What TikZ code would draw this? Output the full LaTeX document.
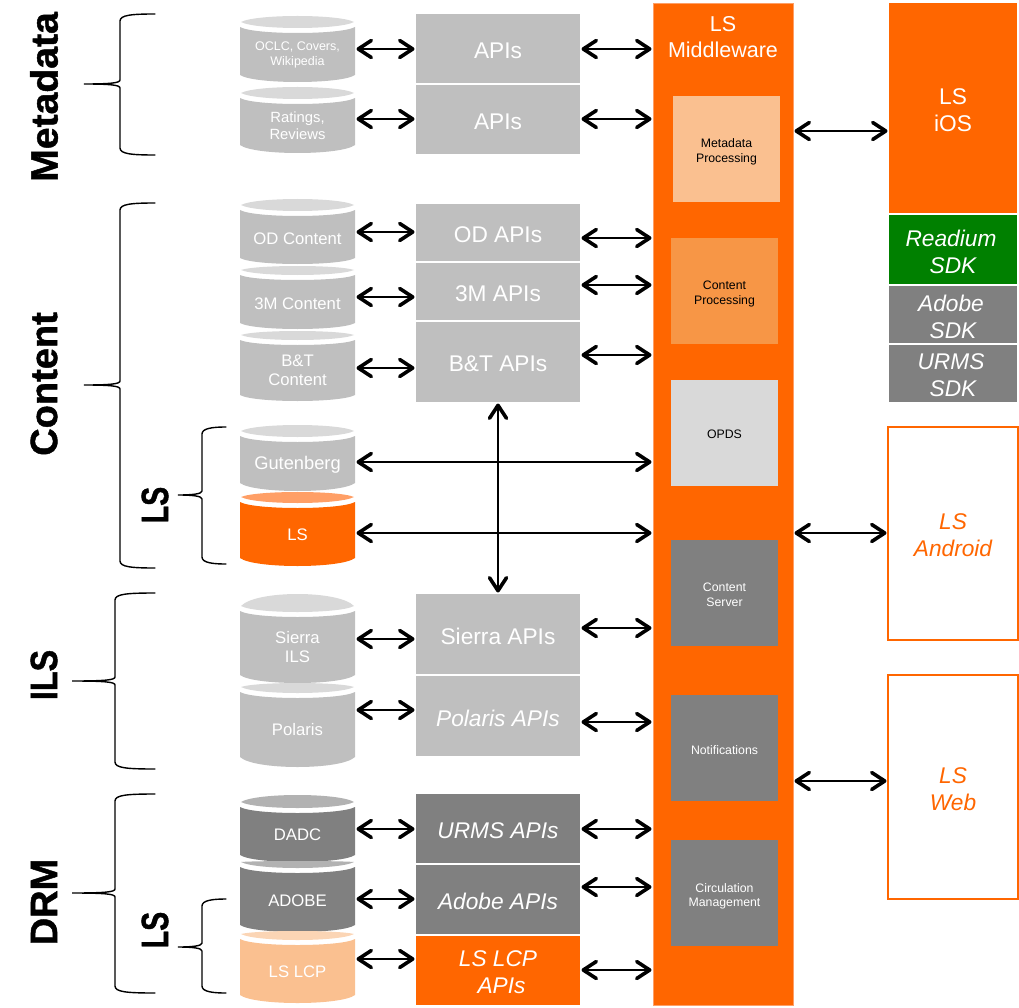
\documentclass[tikz,border=0pt]{standalone}
\usepackage{fontspec}
\usepackage{graphicx}
\setmainfont{Liberation Sans}
\newfontfamily\sidefont[UprightFont=* Bold,FakeBold=1.2]{Liberation Sans}
\usetikzlibrary{arrows.meta}
\definecolor{lsorange}{HTML}{FF6600}
\definecolor{lsorangelid}{HTML}{FF9F66}
\definecolor{lcp}{HTML}{FAC090}
\definecolor{lcplid}{HTML}{FBD5B5}
\definecolor{lgrey}{HTML}{BFBFBF}
\definecolor{lgreylid}{HTML}{D9D9D9}
\definecolor{dgrey}{HTML}{808080}
\definecolor{dgreylid}{HTML}{B2B2B2}
\definecolor{contentp}{HTML}{F79646}
\definecolor{lsgreen}{HTML}{008000}
\newcommand{\fs}[2]{\fontsize{#1}{#2}\selectfont}
\tikzset{
  biarrow/.style={line width=1.6pt,{Straight Barb[length=13pt,width=17pt,line width=3.6pt,round]}-{Straight Barb[length=13pt,width=17pt,line width=3.6pt,round]},shorten >=1.5pt,shorten <=1.5pt},
  bracepath/.style={line width=1.4pt,black,line cap=round},
  dblabel/.style={text=white,minimum width=115pt,inner sep=0pt,outer sep=0pt,align=center,font=\fs{16.7}{19}},
  bxs/.style={anchor=north west,inner sep=0pt,outer sep=0pt,align=center},
  apibox/.style={bxs,text=white,font=\fs{22.7}{27}},
  inner/.style={bxs,font=\fs{12.3}{14.6}},
  sidelabel/.style={rotate=90,font=\fs{38}{40}\sidefont,inner sep=0pt}
}
\newcommand{\cyl}[7]{%
  \pgfmathsetmacro{\lidy}{#2-5}%
  \pgfmathsetmacro{\lidc}{\lidy-(\lidy-#1)/.75}%
  \pgfmathsetmacro{\lidd}{\lidy+(#3-#2)/.75}%
  \pgfmathsetmacro{\bodc}{#2+(#3-#2)/.75}%
  \pgfmathsetmacro{\botc}{#4+(#5-#4)/.75}%
  \fill[#7] (241,\lidy) .. controls (256,\lidc) and (339,\lidc) .. (354,\lidy)
     .. controls (339,\lidd) and (256,\lidd) .. cycle;
  \fill[#6] (240,#2) .. controls (254,\bodc) and (341,\bodc) .. (355,#2)
     -- (355,#4) .. controls (341,\botc) and (254,\botc) .. (240,#4) -- cycle;
}
\newcommand{\tdy}{-2}
\newcommand{\bx}[7]{%
  \node[#6,minimum width={#4-#2},minimum height={#5-#3}] (#1) at (#2,#3) {};
  \node[#6,anchor=center,fill=none,draw=none,yshift=\tdy pt] (#1-text) at (#1.center) {#7};
}
\newcommand{\arr}[3]{\draw[biarrow] (#1.east |- 0,#3) -- (#2.west |- 0,#3);}
\newcommand{\bracecurve}[6]{%
  \pgfmathsetmacro{\ma}{#5-4}\pgfmathsetmacro{\mb}{#5+4}%
  \pgfmathsetmacro{\ta}{#4+7}\pgfmathsetmacro{\tb}{#6-7}%
  \draw[bracepath] (#3,#4) .. controls (#2+12,#4) and (#2,#4+1) .. (#2,\ta) -- (#2,\ma)
    .. controls (#2,#5-1) and (#2-10,#5) .. (#1,#5)
    .. controls (#2-10,#5) and (#2,#5+1) .. (#2,\mb) -- (#2,\tb)
    .. controls (#2,#6-1) and (#2+12,#6) .. (#3,#6);%
}
\begin{document}
\begin{tikzpicture}[x=1pt,y=-1pt]
\useasboundingbox (0,0) rectangle (1019,1008);
% braces
\bracecurve{84}{120}{155}{14}{84}{155}
\bracecurve{84}{120}{155}{203}{385}{568}
\bracecurve{72}{115}{155}{593}{681}{769}
\bracecurve{72}{115}{155}{794}{893}{993}
\bracecurve{178}{202}{226}{427}{495}{564}
\bracecurve{178}{202}{226}{899}{947}{993}
% side labels
\node[sidelabel] (lmeta) at (44,97) {\scalebox{1.03}[1]{Metadata}};
\node[sidelabel] (lcontent) at (44,384) {Content};
\node[sidelabel] (lils) at (44,675) {\scalebox{.85}[1]{ILS}};
\node[sidelabel] (ldrm) at (44,902) {DRM};
\node[sidelabel] (lls) at (155,505) {\scalebox{.75}[1]{LS}};
\node[sidelabel] (llsb) at (155,930) {\scalebox{.75}[1]{LS}};
% cylinders
\cyl{16}{27}{33}{75}{82}{lgrey}{lgreylid}
\cyl{87}{98}{104}{145}{153}{lgrey}{lgreylid}
\cyl{199}{210}{216}{258}{264}{lgrey}{lgreylid}
\cyl{266}{275}{280}{323}{329}{lgrey}{lgreylid}
\cyl{331}{340}{345}{395}{401}{lgrey}{lgreylid}
\cyl{425}{436}{442}{483}{491}{lgrey}{lgreylid}
\cyl{492}{502}{508}{558}{566}{lsorange}{lsorangelid}
\cyl{594}{611}{617}{675}{683}{lgrey}{lgreylid}
\cyl{683}{692}{698}{757}{767}{lgrey}{lgreylid}
\cyl{795}{807}{813}{855}{862}{dgrey}{dgreylid}
\cyl{861}{867}{873}{925}{932}{dgrey}{dgreylid}
\cyl{931}{939}{945}{995}{1003}{lcp}{lcplid}
% cylinder labels
\node[dblabel,font=\fs{12.5}{15}] (dbocl) at (297.5,55) {OCLC, Covers,\\Wikipedia};
\node[dblabel,font=\fs{14.8}{17}] (dbrat) at (297.5,126) {Ratings,\\Reviews};
\node[dblabel] (dbod) at (297.5,239) {OD Content};
\node[dblabel] (db3m) at (297.5,304) {3M Content};
\node[dblabel] (dbbt) at (297.5,370.5) {B\&T\\Content};
\node[dblabel,font=\fs{18.3}{20}] (dbgut) at (297.5,464.5) {Gutenberg};
\node[dblabel] (dbls) at (297.5,535) {LS};
\node[dblabel] (dbsie) at (297.5,647.5) {Sierra\\ILS};
\node[dblabel] (dbpol) at (297.5,730) {Polaris};
\node[dblabel] (dbdadc) at (297.5,835) {DADC};
\node[dblabel] (dbado) at (297.5,901) {ADOBE};
\node[dblabel] (dblcp) at (297.5,972) {LS LCP};
% API boxes
\bx{ap1}{416}{14}{580}{83}{apibox,fill=lgrey}{APIs}
\bx{ap2}{416}{85}{580}{154}{apibox,fill=lgrey}{APIs}
\bx{apod}{416}{204}{580}{261}{apibox,fill=lgrey}{OD APIs}
\bx{ap3m}{416}{263}{580}{320}{apibox,fill=lgrey}{3M APIs}
\bx{apbt}{416}{322}{580}{402}{apibox,fill=lgrey}{B\&T APIs}
\bx{apsie}{416}{594}{580}{674}{apibox,fill=lgrey}{Sierra APIs}
\bx{appol}{416}{676}{580}{756}{apibox,fill=lgrey}{\itshape Polaris APIs}
\bx{apurms}{416}{794}{580}{863}{apibox,fill=dgrey}{\itshape URMS APIs}
\bx{apado}{416}{865}{580}{934}{apibox,fill=dgrey}{\itshape Adobe APIs}
\bx{aplcp}{416}{936}{580}{1005}{apibox,fill=lsorange}{\itshape LS LCP\\\itshape\hspace*{7pt}APIs}
% middleware
\bx{mw}{653}{3}{793}{1005}{bxs,fill=lsorange,draw=lsorangelid,line width=.6pt}{}
\node[text=white,font=\fs{21.5}{26},align=center,inner sep=0pt] (mwlabel) at (723,37.5) {LS\\Middleware};
\renewcommand{\tdy}{-3}
\bx{pmeta}{673}{96}{780}{202}{inner,fill=lcp}{Metadata\\Processing}
\bx{pcont}{671}{238}{778}{344}{inner,fill=contentp}{Content\\Processing}
\renewcommand{\tdy}{-1}
\bx{popds}{671}{380}{778}{486}{inner,fill=lgreylid}{OPDS}
\renewcommand{\tdy}{-2}
\bx{pserv}{671}{540}{778}{646}{inner,fill=dgrey,text=white}{Content\\Server}
\bx{pnoti}{671}{695}{778}{801}{inner,fill=dgrey,text=white}{Notifications}
\renewcommand{\tdy}{-3.5}
\bx{pcirc}{671}{840}{778}{946}{inner,fill=dgrey,text=white}{Circulation\\Management}
\renewcommand{\tdy}{-2}
% right column
\bx{ios}{889}{3}{1017}{213}{apibox,fill=lsorange}{LS\\iOS}
\bx{read}{889}{215}{1017}{284}{apibox,fill=lsgreen}{\itshape Readium\hspace*{4pt}\\\itshape SDK}
\bx{adsdk}{889}{286}{1017}{343}{apibox,fill=dgrey}{\itshape Adobe\hspace*{4pt}\\\itshape SDK}
\bx{usdk}{889}{345}{1017}{402}{apibox,fill=dgrey}{\itshape URMS\hspace*{4pt}\\\itshape SDK}
\bx{andr}{888}{427}{1018}{640}{apibox,draw=lsorange,line width=1.2pt,fill=white,text=lsorange}{\itshape LS\\\itshape Android}
\bx{web}{888}{675}{1018}{899}{apibox,draw=lsorange,line width=1.2pt,fill=white,text=lsorange}{\itshape LS\\\itshape Web}
% connectors
\arr{dbocl}{ap1}{49}\arr{dbrat}{ap2}{119}
\arr{ap1}{mw}{49}\arr{ap2}{mw}{119}
\arr{dbod}{apod}{232}\arr{db3m}{ap3m}{297}\arr{dbbt}{apbt}{368}
\arr{apod}{mw}{238}\arr{ap3m}{mw}{285}\arr{apbt}{mw}{355}
\arr{dbgut}{mw}{462}\arr{dbls}{mw}{533}
\arr{dbsie}{apsie}{639}\arr{dbpol}{appol}{710}
\arr{apsie}{mw}{628}\arr{appol}{mw}{722}
\arr{dbdadc}{apurms}{829}\arr{dbado}{apado}{899}\arr{dblcp}{aplcp}{959}
\arr{apurms}{mw}{829}\arr{apado}{mw}{887}\arr{aplcp}{mw}{970}
\arr{mw}{ios}{131}\arr{mw}{andr}{533}\arr{mw}{web}{781}
\draw[biarrow] (apbt.south -| 498,0) -- (apsie.north -| 498,0);
\end{tikzpicture}
\end{document}
